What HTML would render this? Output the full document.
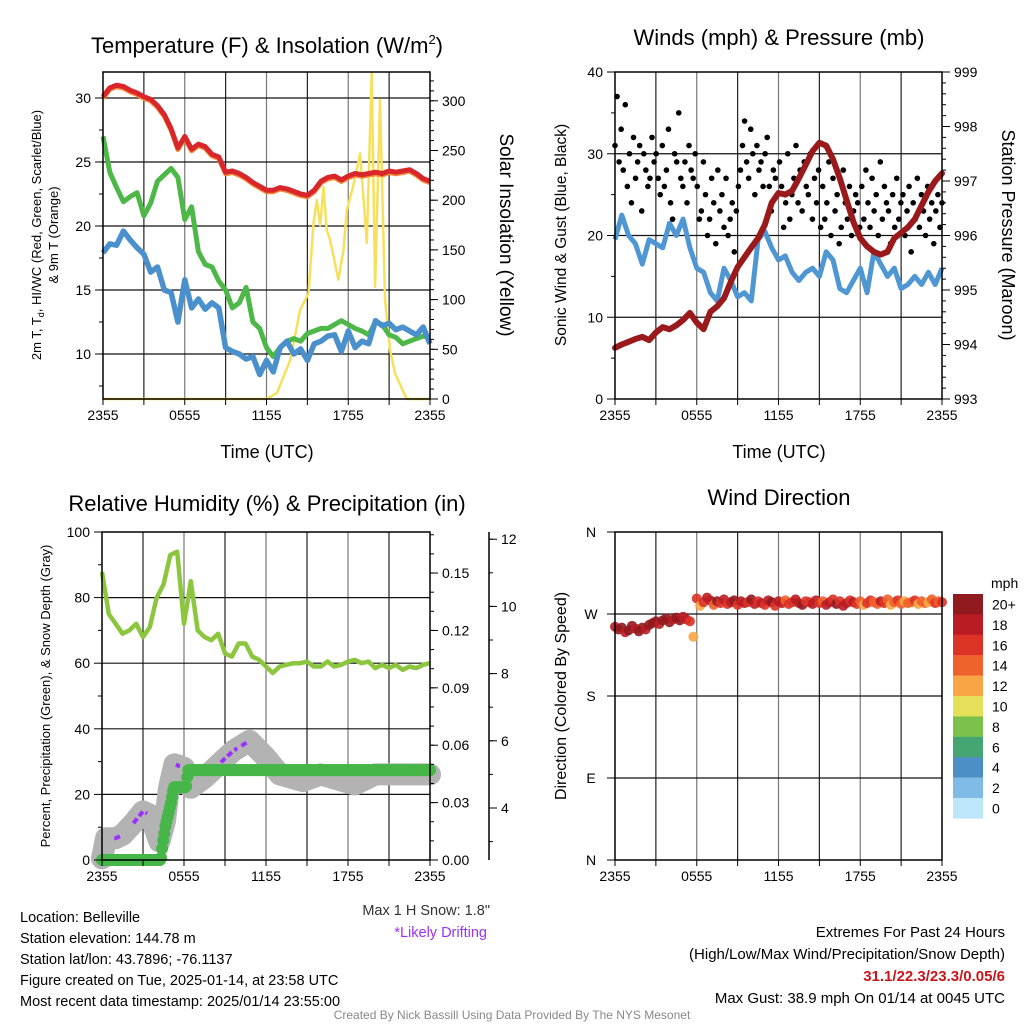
<!DOCTYPE html>
<html><head><meta charset="utf-8">
<style>
html,body{margin:0;padding:0;background:#fff;}
svg{display:block;font-family:"Liberation Sans",Arial,sans-serif;}
</style></head>
<body>
<svg id="fig" width="1024" height="1024" viewBox="0 0 1024 1024" xmlns="http://www.w3.org/2000/svg">
<g font-size="22" text-anchor="middle" fill="#000">
<text x="267" y="53">Temperature (F) &amp; Insolation (W/m<tspan font-size="13" dy="-9">2</tspan><tspan dy="9">)</tspan></text>
<text x="779" y="45">Winds (mph) &amp; Pressure (mb)</text>
<text x="267" y="511">Relative Humidity (%) &amp; Precipitation (in)</text>
<text x="779" y="505">Wind Direction</text>
</g>
<g fill="#000" text-anchor="middle">
<text x="267" y="458" font-size="18">Time (UTC)</text>
<text x="779" y="458" font-size="18">Time (UTC)</text>
<g transform="translate(41,235) rotate(-90)" font-size="13"><text x="0" y="0">2m T, T<tspan font-size="9" dy="3">d</tspan><tspan dy="-3">, HI/WC (Red, Green, Scarlet/Blue)</tspan></text><text x="0" y="17">&amp; 9m T (Orange)</text></g>
<text transform="translate(500,235) rotate(90)" font-size="19">Solar Insolation (Yellow)</text>
<text transform="translate(566,235) rotate(-90)" font-size="15.5">Sonic Wind &amp; Gust (Blue, Black)</text>
<text transform="translate(1002,235) rotate(90)" font-size="18">Station Pressure (Maroon)</text>
<text transform="translate(50,696) rotate(-90)" font-size="13">Percent, Precipitation (Green), &amp; Snow Depth (Gray)</text>
<text transform="translate(566,696) rotate(-90)" font-size="16">Direction (Colored By Speed)</text>
</g>
<g id="plots"></g>
<g font-size="14.5" fill="#000">
<text x="20" y="922">Location: Belleville</text>
<text x="20" y="943">Station elevation: 144.78 m</text>
<text x="20" y="964">Station lat/lon: 43.7896; -76.1137</text>
<text x="20" y="985">Figure created on Tue, 2025-01-14, at 23:58 UTC</text>
<text x="20" y="1006">Most recent data timestamp: 2025/01/14 23:55:00</text>
<text x="490" y="915" text-anchor="end" fill="#333">Max 1 H Snow: 1.8"</text>
<text x="487" y="937" text-anchor="end" fill="#9b30ff">*Likely Drifting</text>
<text x="1005" y="937" text-anchor="end" font-size="15">Extremes For Past 24 Hours</text>
<text x="1005" y="959" text-anchor="end" font-size="15">(High/Low/Max Wind/Precipitation/Snow Depth)</text>
<text x="1005" y="981" text-anchor="end" font-size="15" font-weight="bold" fill="#c8161d">31.1/22.3/23.3/0.05/6</text>
<text x="1005" y="1003" text-anchor="end" font-size="15">Max Gust: 38.9 mph On 01/14 at 0045 UTC</text>
<text x="512" y="1019" text-anchor="middle" font-size="12" fill="#888">Created By Nick Bassill Using Data Provided By The NYS Mesonet</text>
</g>
</svg>
<script>
var xTickLabels = ["2355","0555","1155","1755","2355"];
var tempRed = [30.1,30.8,31.0,30.9,30.6,30.4,30.1,29.9,29.4,28.7,27.6,26.1,27.0,26.0,26.4,26.2,25.6,25.4,24.2,24.3,24.1,23.8,23.4,23.1,22.8,22.8,23.0,22.9,22.7,22.5,22.4,22.8,23.5,23.8,23.9,23.6,23.9,24.1,24.0,24.1,24.2,24.1,24.3,24.2,24.3,24.4,24.1,23.7,23.5];
var tempGreen = [27.0,24.2,23.0,21.9,22.3,22.6,20.8,21.8,23.5,24.0,24.5,23.8,20.5,21.5,18.0,17.0,16.8,15.7,15.0,13.6,14.0,15.2,12.5,12.0,10.5,9.8,10.5,11.0,11.2,11.0,11.6,11.8,12.0,12.0,12.3,12.6,12.3,12.0,11.8,11.5,12.5,12.3,11.5,11.3,10.8,11.0,11.2,11.4,11.3];
var tempBlue = [17.9,18.6,18.5,19.6,18.9,18.3,17.8,16.4,16.8,15.0,14.8,12.5,15.8,13.6,14.3,13.5,14.0,13.6,10.5,10.2,10.0,9.6,9.8,8.4,9.5,8.6,10.5,11.0,10.0,10.4,9.5,10.8,11.0,11.4,11.5,10.2,11.8,10.5,11.0,10.8,12.6,12.2,12.4,11.9,12.1,11.8,11.5,12.1,10.8];
var solarT = [0,12.0,12.76,13.74,14.47,15.08,15.45,15.69,15.94,16.18,16.42,16.67,17.28,17.65,17.89,18.38,18.87,19.36,19.72,19.97,20.33,20.7,21.07,21.43,22.29,24];
var solarV = [0,0,6,39,90,106,177,200,175,213,170,160,120,150,190,215,247,157,328,113,301,100,49,26,0,0];
var windSpeed = [19.5,22.5,20.0,19.0,16.5,19.5,19.0,18.5,21.5,20.0,22.0,18.5,16.0,15.5,13.0,12.0,16.0,14.5,12.5,13.0,12.0,19.5,20.5,18.5,17.0,17.5,15.5,14.5,15.5,16.0,15.0,18.0,17.0,13.5,13.0,14.5,16.0,13.0,18.0,16.5,15.0,16.0,13.5,14.0,15.0,14.0,15.5,14.0,16.0];
var windGust = [31,37,29,33,28,36,26,30,24,32,27,29,31,23,30,28,26,27,32,29,
30,27,25,31,26,28,33,24,22,30,29,35,27,26,29,24,31,28,27,30,
26,22,23,29,25,20,22,27,24,19,28,23,25,21,27,20,22,24,18,23,
26,28,31,34,29,27,33,30,25,31,28,29,26,30,32,26,23,28,27,25,
29,26,21,24,30,22,25,27,31,24,28,23,29,26,25,30,22,27,24,28,
21,26,22,24,29,20,27,23,25,19,21,28,24,22,26,20,23,25,24,21,
26,22,28,24,21,27,23,25,20,29,22,26,24,23,19,25,21,27,22,24,
25,20,23,26,18,24,22,27,21,25,23,20,26,22,24,19,23,25,21,24];
var pressure = [993.94,994.0,994.05,994.1,994.14,994.08,994.22,994.32,994.28,994.35,994.45,994.58,994.4,994.28,994.6,994.7,994.85,995.15,995.42,995.6,995.78,995.95,996.2,996.6,996.78,996.75,996.82,997.05,997.3,997.55,997.7,997.65,997.4,997.05,996.65,996.25,995.95,995.8,995.7,995.65,995.7,995.95,996.05,996.15,996.3,996.55,996.8,997.0,997.14];
var rh = [87.8,75,72,69,70,72,68,71,80,84,93,94,72,85,70,68,67,69,63,62,66,66,62,61,59,57,59,59.5,60,60,60.5,59,59,60.5,59,59.5,60.5,61,60,60.5,58.5,59.5,58.5,59.5,58,59,58.5,59.5,60];
var precipT = [0,4.3,4.45,4.65,4.85,5.05,5.25,6.15,6.3,24];
var precipV = [0,0,0.009,0.018,0.024,0.030,0.038,0.038,0.047,0.047];
var snowT = [0,0.3,1.0,1.5,2.3,3.0,3.5,4.2,4.6,4.9,5.3,6.0,6.5,7.5,8.8,9.6,10.8,12.0,13.0,14.7,16.0,18.5,20.0,24];
var snowV = [2.5,3.1,3.1,3.2,3.55,3.9,3.8,3.0,3.6,4.6,5.3,5.2,4.6,4.9,5.4,5.7,6.0,5.5,5.0,4.8,5.0,4.7,5.0,5.0];
var driftT0 = [0.9,2.3,5.4,8.7,10.2];
var driftT1 = [1.4,3.3,5.7,9.9,10.6];
var windDir = [256,253,255,250,252,257,254,251,255,253,258,260,262,259,263,265,261,264,266,263,267,264,262,245,
287,279,283,288,285,280,284,282,286,281,283,285,280,284,282,283,286,281,284,282,280,285,283,279,284,282,285,281,283,286,282,280,284,283,281,285,282,284,280,283,286,281,284,279,282,285,283,281,284,280,282,285,283,281,284,282,286,280,283,285,281,284,282,283,285,281,284,282,283,286,282,284,283];
var dirSpeed = [19,20,21,19,22,20,18,21,20,19,22,21,20,19,21,20,22,19,20,21,18,19,17,12,
17,13,16,19,18,15,20,17,19,16,18,20,17,19,18,16,20,18,17,19,16,18,20,17,19,18,15,17,16,19,18,20,17,16,19,18,17,15,18,19,16,20,17,18,19,16,18,17,15,13,16,17,15,14,18,16,14,13,15,17,14,13,15,14,16,13,14,15,13,14,16,15,17];
var cbLabels = ["20+","18","16","14","12","10","8","6","4","2","0"];
var cbColors = ["#911a1e","#bb1c23","#dc3327","#f0622b","#f8a546","#e6df5a","#7cc14c","#45a673","#4a8fc6","#7fbbe5","#bde6f8"];

var NS="http://www.w3.org/2000/svg";
var root=document.getElementById('plots');
function mk(tag,attrs,parent){var e=document.createElementNS(NS,tag);for(var k in attrs)e.setAttribute(k,attrs[k]);(parent||root).appendChild(e);return e;}
function idxT(arr,i){return i*24/(arr.length-1);}

var P=[{x0:103,x1:430,y0:72,y1:399},{x0:615,x1:942,y0:72,y1:399},{x0:102,x1:430,y0:532,y1:860},{x0:615,x1:942,y0:532,y1:860}];
function xs(p,t){return p.x0+t/24*(p.x1-p.x0);}
var yTemp=function(v){return 98+(30-v)*12.8;};
var ySolar=function(v){return 399-v*0.994;};
var yWind=function(v){return 399-v*8.175;};
var yPres=function(v){return 399-(v-993)*54.5;};
var yRH=function(v){return 860-v*3.28;};
var yPrec=function(v){return 860-v*1913;};
var ySnow=function(v){return 808-(v-4)*33.6;};
var yDir=function(v){return 860-v*328/360;};

function grid(p,hVals,yf,name){
  var g=mk('g',{});
  
  
  for(var i=1;i<8;i++){var x=p.x0+i*(p.x1-p.x0)/8;
    var l=mk('line',{x1:x,x2:x,y1:p.y0,y2:p.y1,stroke:(i%2?'#222':'#777'),'stroke-width':1.2},g);
    
    }
  hVals.forEach(function(v){var y=yf(v);
    var l=mk('line',{x1:p.x0,x2:p.x1,y1:y,y2:y,stroke:'#111','stroke-width':1.2},g);
    
    });
}
function frame(p,name){
  var r=mk('rect',{x:p.x0,y:p.y0,width:p.x1-p.x0,height:p.y1-p.y0,fill:'none',stroke:'#000','stroke-width':1.5});
  
  
  var g=mk('g',{'font-size':14,'text-anchor':'middle'});
  
  
  for(var i=0;i<=8;i++){var x=p.x0+i*(p.x1-p.x0)/8;mk('line',{x1:x,x2:x,y1:p.y1,y2:p.y1+6,stroke:'#000'},g);}
  xTickLabels.forEach(function(s,i){var t=mk('text',{x:p.x0+i*(p.x1-p.x0)/4,y:p.y1+21},g);t.textContent=s;
    
    });
}
function yAxis(p,side,vals,yf,fmt,name,minor,x){
  var g=mk('g',{'font-size':14,'text-anchor':side=='left'?'end':'start'});
  
  
  var ax=x!==undefined?x:(side=='left'?p.x0:p.x1), d=side=='left'?-1:1;
  vals.forEach(function(v){var y=yf(v);mk('line',{x1:ax,x2:ax+d*8,y1:y,y2:y,stroke:'#000'},g);
    var t=mk('text',{x:ax+d*12,y:y+5},g);t.textContent=fmt(v);
    
    });
  (minor||[]).forEach(function(v){var y=yf(v);if(y>=p.y0-1&&y<=p.y1+1)mk('line',{x1:ax,x2:ax+d*4,y1:y,y2:y,stroke:'#000'},g);});
}
function path(pts,attrs,name){var d='';pts.forEach(function(q,i){d+=(i?'L':'M')+q[0].toFixed(1)+','+q[1].toFixed(1);});
  attrs.d=d;attrs.fill='none';var e=mk('path',attrs);
  
  return e;}
function range(a,b,s){var r=[];for(var v=a;v<=b+1e-9;v+=s)r.push(v);return r;}

var p=P[0];
grid(p,[10,15,20,25,30],yTemp,'temp');
path(solarT.map(function(t,i){return [xs(p,t),ySolar(solarV[i])];}),{stroke:'#f7e15c','stroke-width':2.5,'stroke-linejoin':'round'},'solar-line');
path(tempGreen.map(function(v,i){return [xs(p,idxT(tempGreen,i)),yTemp(v)];}),{stroke:'#4db848','stroke-width':5,'stroke-linejoin':'round'},'wind-chill-line');
path(tempBlue.map(function(v,i){return [xs(p,idxT(tempBlue,i)),yTemp(v)];}),{stroke:'#4a90cc','stroke-width':5.5,'stroke-linejoin':'round'},'dewpoint-line');
path(tempRed.map(function(v,i){return [xs(p,idxT(tempRed,i)),yTemp(v-0.12)];}),{stroke:'#f38b3a','stroke-width':5,'stroke-linejoin':'round'},'temp-9m-line');
path(tempRed.map(function(v,i){return [xs(p,idxT(tempRed,i)),yTemp(v)];}),{stroke:'#d8262a','stroke-width':5,'stroke-linejoin':'round'},'temp-2m-line');
frame(p,'temp');
yAxis(p,'left',[10,15,20,25,30],yTemp,String,'temp-y-axis',range(7.5,32,5));
yAxis(p,'right',[0,50,100,150,200,250,300],ySolar,String,'solar-y-axis',range(10,330,10));

p=P[1];
grid(p,[10,20,30],yWind,'winds');
path(windSpeed.map(function(v,i){return [xs(p,idxT(windSpeed,i)),yWind(v)];}),{stroke:'#4f97d2','stroke-width':5,'stroke-linejoin':'round'},'wind-speed-line');
var gg=mk('g',{fill:'#000'});


windGust.forEach(function(v,i){var c=mk('circle',{cx:xs(p,idxT(windGust,i)),cy:yWind(v),r:2.8},gg);
  
  });
path(pressure.map(function(v,i){return [xs(p,idxT(pressure,i)),yPres(v)];}),{stroke:'#9a1a1c','stroke-width':6,'stroke-linejoin':'round','stroke-linecap':'round'},'pressure-line');
frame(p,'winds');
yAxis(p,'left',[0,10,20,30,40],yWind,String,'wind-y-axis',range(5,35,10));
yAxis(p,'right',[993,994,995,996,997,998,999],yPres,String,'pressure-y-axis',range(993,999,0.2));

p=P[2];
grid(p,[20,40,60,80],yRH,'humidity');
path(rh.map(function(v,i){return [xs(p,idxT(rh,i)),yRH(v)];}),{stroke:'#8cc63f','stroke-width':4.5,'stroke-linejoin':'round'},'rh-line');
path(snowT.map(function(t,i){return [xs(p,t),ySnow(snowV[i])];}),{stroke:'#b3b3b3','stroke-width':22,'stroke-linejoin':'round','stroke-linecap':'round'},'snow-depth-line');
function snowAt(t){for(var i=1;i<snowT.length;i++){if(t<=snowT[i]){var f=(t-snowT[i-1])/(snowT[i]-snowT[i-1]);return snowV[i-1]+f*(snowV[i]-snowV[i-1]);}}return snowV[snowV.length-1];}
driftT0.forEach(function(t0,k){var pts=[];for(var t=t0;t<=driftT1[k]+1e-9;t+=0.1)pts.push([xs(p,t),ySnow(snowAt(t))]);
  path(pts,{stroke:'#9b30ff','stroke-width':4,'stroke-dasharray':'6 3'},'drifting-segment');});
function precAt(t){for(var i=1;i<precipT.length;i++){if(t<=precipT[i]){var f=(t-precipT[i-1])/(precipT[i]-precipT[i-1]);return precipV[i-1]+f*(precipV[i]-precipV[i-1]);}}return precipV[precipV.length-1];}
var pg=mk('g',{fill:'#47b649'});


for(var t=0;t<=24;t+=0.08){var c=mk('circle',{cx:xs(p,t),cy:yPrec(precAt(t)),r:6},pg);
  
  }
frame(p,'humidity');
yAxis(p,'left',[0,20,40,60,80,100],yRH,String,'rh-y-axis',range(10,90,20));
yAxis(p,'right',[0,0.03,0.06,0.09,0.12,0.15],yPrec,function(v){return v.toFixed(2);},'precip-y-axis',range(0,0.171,0.01));
var sp=mk('line',{x1:489,x2:489,y1:532,y2:860,stroke:'#000','stroke-width':1.5});


yAxis({x0:489,x1:489,y0:532,y1:860},'right',[4,6,8,10,12],ySnow,String,'snow-y-axis',range(3,12.5,1),489);

p=P[3];
grid(p,[90,180,270],yDir,'direction');
function spColor(s){var b=Math.min(10,Math.floor(s/2));return cbColors[10-b];}
var dg=mk('g',{});


windDir.forEach(function(v,i){var c=mk('circle',{cx:xs(p,idxT(windDir,i)),cy:yDir(v),r:5,fill:spColor(dirSpeed[i]),'fill-opacity':0.9},dg);
  
  });
frame(p,'direction');
var dl=mk('g',{'font-size':14,'text-anchor':'middle'});


[["N",360],["W",270],["S",180],["E",90],["N",0]].forEach(function(a){var y=yDir(a[1]);mk('line',{x1:p.x0-8,x2:p.x0,y1:y,y2:y,stroke:'#000'},dl);
  var t=mk('text',{x:591,y:y+5},dl);t.textContent=a[0];
  
  });
var cb=mk('g',{'font-size':14});


var mt=mk('text',{x:991,y:588},cb);mt.textContent='mph';


cbLabels.forEach(function(s,i){var y=594+i*20.4;
  var r=mk('rect',{x:953,y:y,width:30,height:20.6,fill:cbColors[i]},cb);
  
  
  var t=mk('text',{x:992,y:y+15.5},cb);t.textContent=s;
  
  });
</script>
</body></html>
